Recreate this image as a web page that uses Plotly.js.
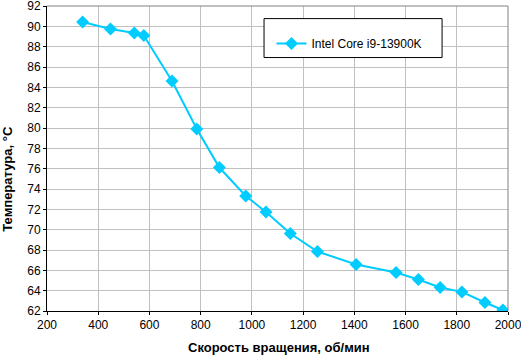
<!DOCTYPE html>
<html><head><meta charset="utf-8">
<script src="https://cdn.plot.ly/plotly-3.0.1.min.js"></script>
<style>html,body{margin:0;padding:0;background:#fff}</style>
</head><body>
<div id="chart" style="width:521px;height:355px"></div>
<script>
const seriesName = "Intel Core i9-13900K";
const rpm = [339, 448, 541, 578, 688, 785, 873, 976, 1055, 1150, 1256, 1407, 1563, 1650, 1735, 1820, 1910, 1980];
const temp = [90.43, 89.74, 89.35, 89.09, 84.63, 79.91, 76.11, 73.32, 71.74, 69.62, 67.85, 66.57, 65.79, 65.1, 64.31, 63.88, 62.84, 62.1];
const xTitle = "Скорость вращения, об/мин";
const yTitle = "Температура, °С";

const fam = "Liberation Sans, Arial, sans-serif";
const font = {family: fam, size: 12, color: "#000"};
const titleFont = {family: fam, size: 13, color: "#000", weight: "bold"};
Plotly.newPlot("chart", [{
  x: rpm, y: temp, name: seriesName, type: "scatter", mode: "lines+markers",
  line: {color: "#00ccff", width: 2},
  marker: {symbol: "diamond", size: 10, color: "#00ccff"}
}], {
  width: 521, height: 355,
  margin: {l: 47, r: 13, t: 6, b: 44},
  paper_bgcolor: "#fff", plot_bgcolor: "#fff",
  font: font,
  showlegend: true,
  legend: {x: 0.487, y: 0.925, xanchor: "left", yanchor: "top", bgcolor: "rgba(0,0,0,0)",
    borderwidth: 0, font: font},
  xaxis: {range: [200, 2000], dtick: 200, tick0: 200, showgrid: true, gridcolor: "#c0c0c0",
    showline: true, linecolor: "#000", linewidth: 1, ticks: "outside", ticklen: 3, tickcolor: "#000",
    zeroline: false, tickfont: font, ticklabeloverflow: "allow"},
  yaxis: {range: [62, 92], dtick: 2, tick0: 62, showgrid: true, gridcolor: "#c0c0c0",
    showline: true, linecolor: "#000", linewidth: 1, ticks: "outside", ticklen: 3, tickcolor: "#000",
    zeroline: false, tickfont: font, ticklabeloverflow: "allow"},
  annotations: [
    {text: xTitle, xref: "paper", yref: "paper", x: 0.503, y: -0.119, xanchor: "center", yanchor: "middle",
     showarrow: false, font: titleFont},
    {text: yTitle, xref: "paper", yref: "paper", x: -0.086, y: 0.435, xanchor: "center", yanchor: "middle",
     textangle: -90, showarrow: false, font: titleFont}
  ],
  shapes: [
    {type: "line", xref: "paper", yref: "paper", x0: 0, x1: 1, y0: 1, y1: 1, line: {color: "#808080", width: 1}},
    {type: "line", xref: "paper", yref: "paper", x0: 1, x1: 1, y0: 0, y1: 1, line: {color: "#808080", width: 1}},
    {type: "rect", xref: "paper", yref: "paper", x0: 0.4708, x1: 0.857, y0: 0.831, y1: 0.9587,
     line: {color: "#000", width: 1}, fillcolor: "#fff", layer: "above"}
  ]
}, {displayModeBar: false});
</script>
</body></html>
